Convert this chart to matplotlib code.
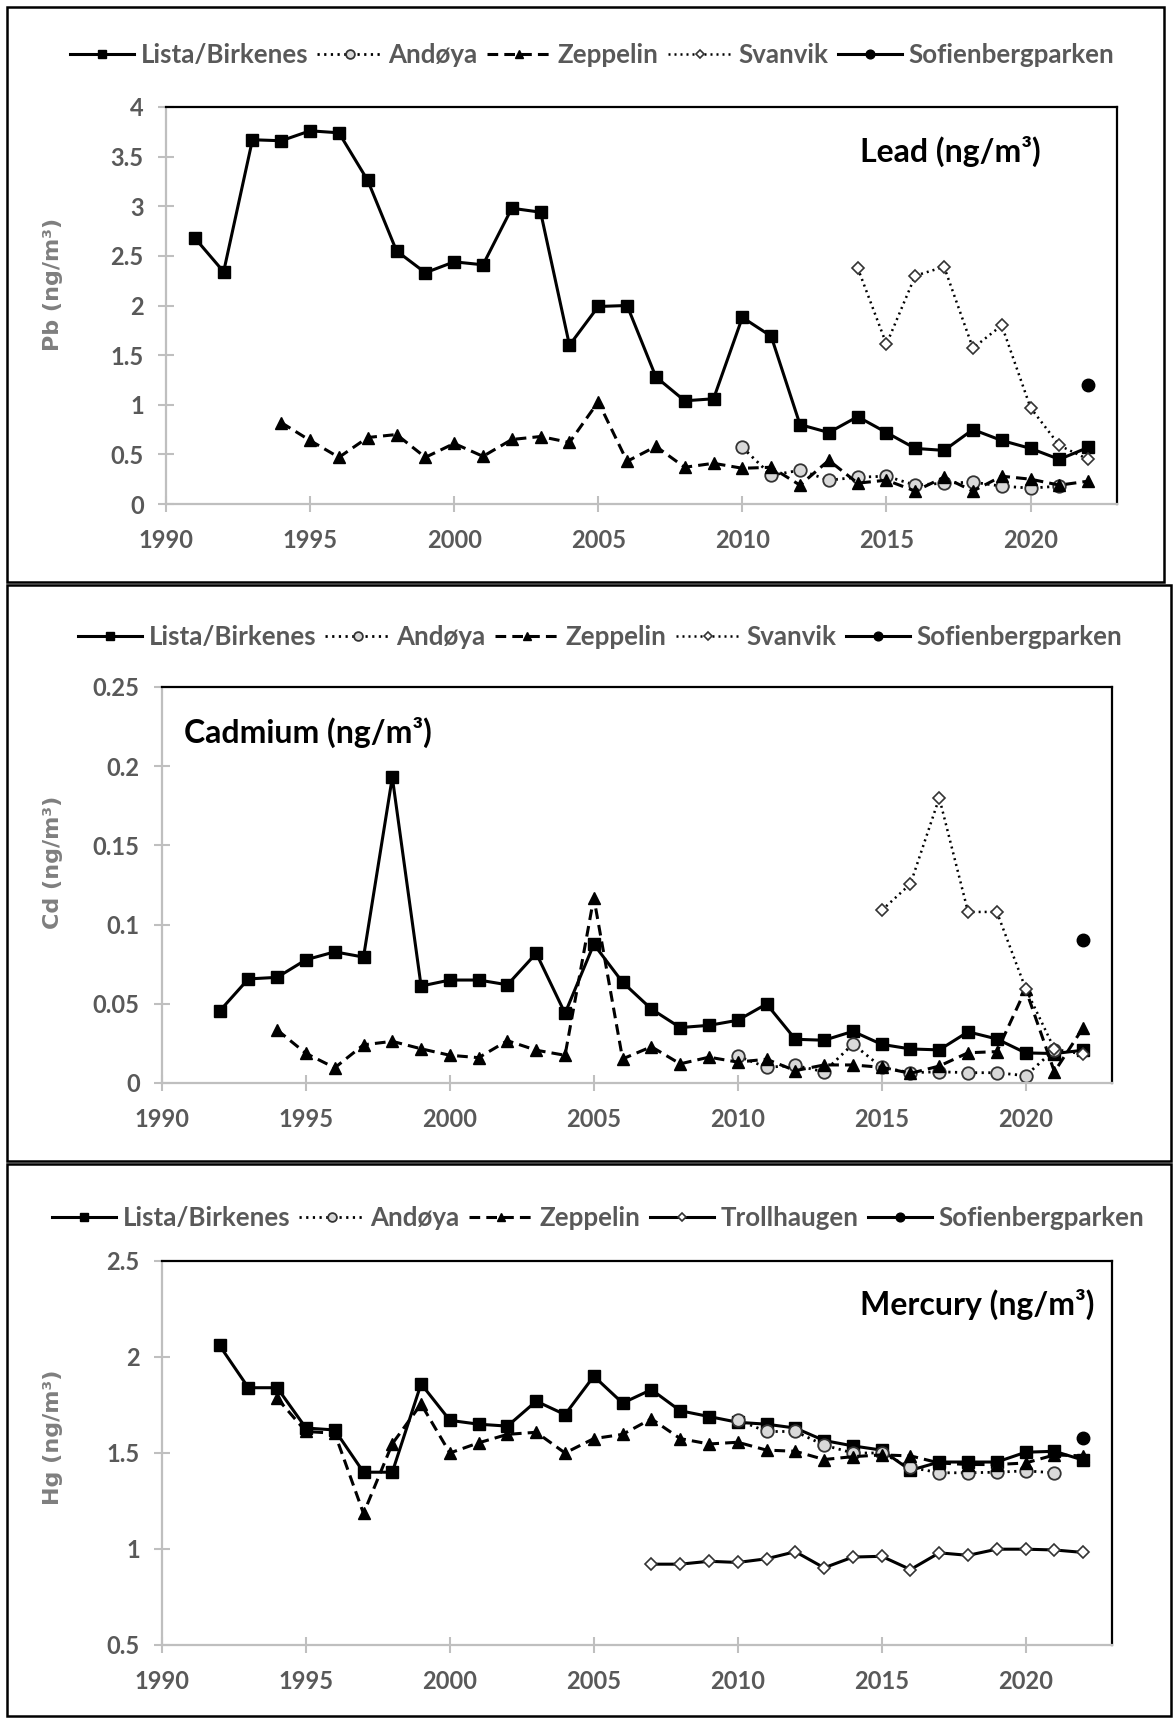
import matplotlib
matplotlib.use("Agg")
import matplotlib.pyplot as plt
from matplotlib.lines import Line2D
from matplotlib.patches import Rectangle

# ---- data ----
pb_lista_years = list(range(1991, 2023))
pb_lista = [2.68, 2.34, 3.67, 3.66, 3.76, 3.74, 3.26, 2.55, 2.33, 2.44, 2.41, 2.98, 2.94, 1.60, 1.99, 2.00,
            1.28, 1.04, 1.06, 1.88, 1.69, 0.80, 0.72, 0.88, 0.72, 0.56, 0.54, 0.75, 0.64, 0.56, 0.45, 0.57]
pb_zep_years = list(range(1994, 2023))
pb_zeppelin = [0.82, 0.64, 0.47, 0.67, 0.70, 0.47, 0.61, 0.48, 0.65, 0.68, 0.62, 1.03, 0.43, 0.58, 0.37,
               0.41, 0.36, 0.37, 0.19, 0.44, 0.21, 0.24, 0.13, 0.27, 0.13, 0.28, 0.25, 0.19, 0.23]
pb_and_years = list(range(2010, 2022))
pb_andoya = [0.57, 0.29, 0.34, 0.24, 0.27, 0.28, 0.19, 0.21, 0.22, 0.18, 0.16, 0.18]
pb_sva_years = list(range(2014, 2023))
pb_svanvik = [2.38, 1.61, 2.30, 2.39, 1.57, 1.80, 0.97, 0.59, 0.45]
pb_sofien = [1.20]

cd_lista_years = list(range(1992, 2023))
cd_lista = [0.0454, 0.0657, 0.0667, 0.0778, 0.0828, 0.0795, 0.193, 0.0612, 0.065, 0.065, 0.062, 0.0819,
            0.044, 0.0876, 0.0636, 0.0467, 0.035, 0.0364, 0.0396, 0.0499, 0.0276, 0.027, 0.0326, 0.0244,
            0.0215, 0.0209, 0.0323, 0.0278, 0.019, 0.0186, 0.0207]
cd_zep_years = list(range(1994, 2023))
cd_zeppelin = [0.0335, 0.0187, 0.0096, 0.0241, 0.0263, 0.0216, 0.0175, 0.016, 0.0267, 0.0207, 0.0175,
               0.117, 0.0152, 0.0229, 0.0121, 0.0163, 0.0132, 0.015, 0.0078, 0.0114, 0.0114, 0.0099,
               0.0061, 0.0107, 0.0191, 0.0198, 0.0592, 0.0071, 0.035]
cd_and_years = list(range(2010, 2022))
cd_andoya = [0.017, 0.0099, 0.0111, 0.0071, 0.0246, 0.0099, 0.0065, 0.0071, 0.0065, 0.0065, 0.0046, 0.021]
cd_sva_years = list(range(2015, 2023))
cd_svanvik = [0.109, 0.1257, 0.18, 0.108, 0.108, 0.0596, 0.0215, 0.018]
cd_sofien = [0.0904]

hg_lista_years = list(range(1992, 2023))
hg_lista = [2.06, 1.84, 1.84, 1.63, 1.62, 1.40, 1.40, 1.86, 1.67, 1.65, 1.64, 1.77, 1.70, 1.90, 1.76, 1.83,
            1.72, 1.69, 1.66, 1.65, 1.63, 1.565, 1.537, 1.515, 1.41, 1.453, 1.453, 1.453, 1.504, 1.509, 1.463]
hg_zep_years = list(range(1994, 2023))
hg_zeppelin = [1.785, 1.612, 1.603, 1.185, 1.548, 1.755, 1.50, 1.553, 1.597, 1.608, 1.50, 1.575, 1.597,
               1.678, 1.575, 1.547, 1.556, 1.515, 1.509, 1.466, 1.481, 1.49, 1.485, 1.448, 1.44, 1.44,
               1.448, 1.49, 1.485]
hg_and_years = list(range(2010, 2022))
hg_andoya = [1.672, 1.612, 1.612, 1.541, 1.50, 1.50, 1.425, 1.397, 1.397, 1.40, 1.407, 1.397]
hg_troll_years = list(range(2007, 2023))
hg_trollhaugen = [0.921, 0.921, 0.936, 0.93, 0.949, 0.986, 0.902, 0.958, 0.962, 0.893, 0.98, 0.967,
                  0.999, 0.999, 0.995, 0.982]
hg_sofien = [1.578]

sofien_years = [2022]

W, H = 1173, 1718
GRAY_TXT = "#595959"
GRAY_AX = "#bfbfbf"
TXT_FONT = ["Lato", "DejaVu Sans"]

fig = plt.figure(figsize=(W / 100, H / 100), dpi=100)


def rect(l, t, r, b):
    return [l / W, 1 - b / H, (r - l) / W, (b - t) / H]


styles = {
    "lista": dict(color="black", lw=2.2, ls="-", marker="s", ms=9, mfc="black", mec="black"),
    "andoya": dict(color="black", lw=2.0, ls=(0, (0.8, 1.6)), marker="o", ms=9, mfc="#d9d9d9", mec="#333333", mew=1.3),
    "zeppelin": dict(color="black", lw=2.2, ls=(0, (3.5, 2)), marker="^", ms=8, mfc="black", mec="black"),
    "svanvik": dict(color="black", lw=1.8, ls=(0, (0.8, 1.6)), marker="D", ms=6.5, mfc="white", mec="#333333", mew=1.2),
    "troll": dict(color="black", lw=2.2, ls="-", marker="D", ms=6.5, mfc="white", mec="#333333", mew=1.2),
    "sofien": dict(color="black", lw=2.2, ls="-", marker="o", ms=9, mfc="black", mec="black"),
}


def legend_handle(key):
    st = dict(styles[key])
    st["ms"] = st["ms"] * 0.7
    return Line2D([], [], **st)


def panel(pos, ylim, yticks, yticklabels, ylabel, ylabel_xy, title, title_xy, series, labels, keys, legend_xy):
    ax = fig.add_axes(rect(*pos))
    for (x, y), key in zip(series, keys):
        ax.plot(x, y, **styles[key], clip_on=False)
    ax.set_xlim(1990, 2023)
    ax.set_ylim(*ylim)
    ax.set_xticks(range(1990, 2021, 5))
    ax.set_yticks(yticks)
    ax.set_yticklabels(yticklabels)
    for s in ["left", "bottom"]:
        ax.spines[s].set_color(GRAY_AX)
        ax.spines[s].set_linewidth(1.6)
    for s in ["top", "right"]:
        ax.spines[s].set_color("black")
        ax.spines[s].set_linewidth(1.6)
    ax.tick_params(axis="both", direction="inout", length=12, width=1.5, color=GRAY_AX,
                   labelcolor=GRAY_TXT, labelsize=17)
    ax.tick_params(axis="x", pad=12)
    ax.tick_params(axis="y", pad=10)
    for lab in ax.get_xticklabels() + ax.get_yticklabels():
        lab.set_family(TXT_FONT)
        lab.set_fontweight("bold")
    ax.set_ylabel(ylabel, fontsize=16, color="#7f7f7f", family=["DejaVu Sans"], fontweight="bold")
    ax.yaxis.set_label_coords(*ylabel_xy)
    ax.text(title_xy[0], title_xy[1], title, transform=ax.transAxes, fontsize=23, fontweight="bold",
            family=TXT_FONT, color="black", va="center", ha="left")
    handles = [legend_handle(k) for k in keys]
    leg = fig.legend(handles, labels, loc="center", bbox_to_anchor=(legend_xy[0] / W, 1 - legend_xy[1] / H),
                     ncol=len(labels), frameon=False, handlelength=2.5, handletextpad=0.25,
                     columnspacing=0.35, prop={"family": TXT_FONT, "size": 18.6, "weight": "bold"})
    for t in leg.get_texts():
        t.set_color(GRAY_TXT)
    return ax


panel((166, 107, 1117, 504), (0, 4), [0, 0.5, 1, 1.5, 2, 2.5, 3, 3.5, 4],
      ["0", "0.5", "1", "1.5", "2", "2.5", "3", "3.5", "4"], "Pb (ng/m³)", (-0.108, 0.554),
      "Lead (ng/m³)", (0.73, 0.887),
      [(pb_lista_years, pb_lista), (pb_and_years, pb_andoya), (pb_zep_years, pb_zeppelin),
       (pb_sva_years, pb_svanvik), (sofien_years, pb_sofien)],
      ["Lista/Birkenes", "Andøya", "Zeppelin", "Svanvik", "Sofienbergparken"],
      ["lista", "andoya", "zeppelin", "svanvik", "sofien"], (592, 55))

panel((162, 687, 1112, 1083), (0, 0.25), [0, 0.05, 0.1, 0.15, 0.2, 0.25],
      ["0", "0.05", "0.1", "0.15", "0.2", "0.25"], "Cd (ng/m³)", (-0.104, 0.558),
      "Cadmium (ng/m³)", (0.023, 0.886),
      [(cd_lista_years, cd_lista), (cd_and_years, cd_andoya), (cd_zep_years, cd_zeppelin),
       (cd_sva_years, cd_svanvik), (sofien_years, cd_sofien)],
      ["Lista/Birkenes", "Andøya", "Zeppelin", "Svanvik", "Sofienbergparken"],
      ["lista", "andoya", "zeppelin", "svanvik", "sofien"], (600, 637))

panel((162, 1261, 1112, 1645), (0.5, 2.5), [0.5, 1, 1.5, 2, 2.5],
      ["0.5", "1", "1.5", "2", "2.5"], "Hg (ng/m³)", (-0.104, 0.542),
      "Mercury (ng/m³)", (0.735, 0.888),
      [(hg_lista_years, hg_lista), (hg_and_years, hg_andoya), (hg_zep_years, hg_zeppelin),
       (hg_troll_years, hg_trollhaugen), (sofien_years, hg_sofien)],
      ["Lista/Birkenes", "Andøya", "Zeppelin", "Trollhaugen", "Sofienbergparken"],
      ["lista", "andoya", "zeppelin", "troll", "sofien"], (598, 1218))

# panel frames
for l, t, r, b in [(7, 7, 1164, 582), (7, 585, 1171, 1161), (7, 1164, 1171, 1716)]:
    fig.add_artist(Rectangle((l / W, 1 - b / H), (r - l) / W, (b - t) / H, transform=fig.transFigure,
                             fill=False, edgecolor="black", linewidth=1.8))

fig.savefig("out.png", dpi=100)
